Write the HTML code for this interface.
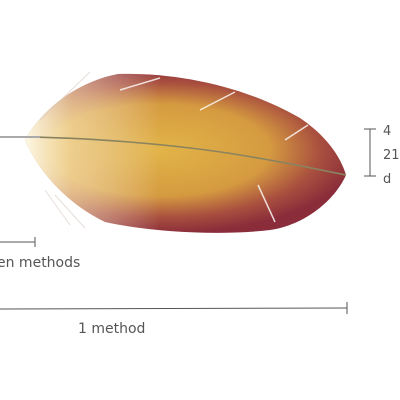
<!DOCTYPE html>
<html><head><meta charset="utf-8"><style>
html,body{margin:0;padding:0;background:#fff;width:400px;height:400px;overflow:hidden}
text{font-family:"DejaVu Sans","Liberation Sans",sans-serif;fill:#555}
</style></head><body>
<svg width="400" height="400" viewBox="0 0 400 400">
<defs>
<radialGradient id="g" cx="160" cy="150" r="200" gradientUnits="userSpaceOnUse" gradientTransform="translate(160 150) scale(1 0.42) translate(-160 -150)">
<stop offset="0" stop-color="#e2b448"/>
<stop offset="0.55" stop-color="#d59a40"/>
<stop offset="0.8" stop-color="#a9503f"/>
<stop offset="1" stop-color="#8a2c3a"/>
</radialGradient>
<linearGradient id="tip" x1="0" x2="160" y1="0" y2="0" gradientUnits="userSpaceOnUse">
<stop offset="0.15" stop-color="#fffbe8" stop-opacity="1"/>
<stop offset="0.45" stop-color="#fff4c8" stop-opacity="0.55"/>
<stop offset="1" stop-color="#fff" stop-opacity="0"/>
</linearGradient>
<clipPath id="fc"><path d="M25,140 C40,112 75,82 118,74 C175,72 245,86 300,118 C325,135 340,155 346,175 C335,200 305,225 270,230 C220,236 150,232 105,222 C70,205 40,175 25,140 Z"/></clipPath>
</defs>
<g>
<g clip-path="url(#fc)">
<rect x="0" y="60" width="360" height="190" fill="url(#g)"/>
<rect x="0" y="60" width="360" height="190" fill="url(#tip)"/>
</g>
<g stroke="#fff" stroke-width="1.5" opacity="0.8">
<line x1="120" y1="90" x2="160" y2="78"/>
<line x1="200" y1="110" x2="235" y2="92"/>
<line x1="285" y1="140" x2="308" y2="125"/>
<line x1="258" y1="185" x2="275" y2="222"/>
</g>
<g stroke="#d8c8c0" stroke-width="1" opacity="0.6">
<line x1="40" y1="120" x2="90" y2="72"/>
<line x1="45" y1="190" x2="70" y2="225"/>
<line x1="55" y1="195" x2="85" y2="228"/>
</g>
<path d="M0,137 C80,136 180,145 240,155 C290,163 320,170 346,175" stroke="#8a8360" stroke-width="1.6" fill="none"/>
<path d="M0,137 L40,137" stroke="#aaa" stroke-width="2"/>
</g>
<g stroke="#555" stroke-width="1" fill="none">
<line x1="370" y1="129" x2="370" y2="176"/>
<line x1="364" y1="129" x2="376" y2="129"/>
<line x1="364" y1="176" x2="376" y2="176"/>
</g>
<text x="383" y="135" font-size="13">4</text>
<text x="383" y="159" font-size="13">21</text>
<text x="383" y="183" font-size="13">d</text>
<g stroke="#555" stroke-width="1">
<line x1="0" y1="242" x2="35" y2="242"/>
<line x1="35" y1="237" x2="35" y2="247"/>
</g>
<text x="-3" y="267" font-size="14">en methods</text>
<g stroke="#555" stroke-width="1">
<line x1="0" y1="309" x2="347" y2="308"/>
<line x1="347" y1="302" x2="347" y2="314"/>
</g>
<text x="78" y="333" font-size="14">1 method</text>
</svg>
</body></html>
